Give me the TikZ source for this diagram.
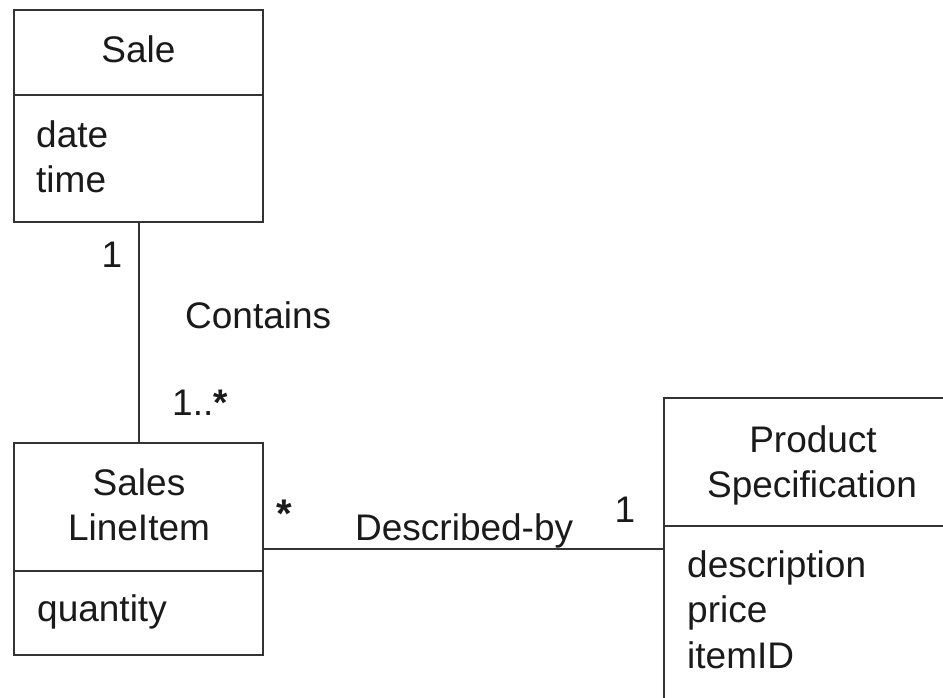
\documentclass[tikz,border=0pt]{standalone}
\usepackage{fontspec}
\setmainfont{Liberation Sans}
\definecolor{edge}{HTML}{333333}
\definecolor{ink}{HTML}{1A1A1A}
\tikzset{
  cls/.style={draw=edge, line width=2pt, rectangle, minimum width=249pt, inner sep=0pt},
  link/.style={draw=edge, line width=2pt},
  sep/.style={draw=edge, line width=2pt},
  lbl/.style={inner sep=0pt, text=ink, font=\fontsize{37}{45}\selectfont},
}
\begin{document}
\begin{tikzpicture}[x=1pt,y=-1pt]
\useasboundingbox (0,0) rectangle (943,697);
\clip (0,0) rectangle (943,697);
% boxes
\node[cls, minimum height=212pt] (sale) at (138.5,116) {};
\node[cls, minimum height=212pt] (item) at (138.5,549) {};
\node[cls, minimum width=320pt, minimum height=340pt] (prod) at (824,568) {};
% dividers
\coordinate (saleDivL) at (14,95);
\coordinate (itemDivL) at (14,571);
\coordinate (prodDivL) at (664,526);
\draw[sep] (saleDivL) -- (saleDivL -| sale.east);
\draw[sep] (itemDivL) -- (itemDivL -| item.east);
\draw[sep] (prodDivL) -- (prodDivL -| prod.east);
% connectors
\draw[link] (sale.south) -- (item.north);
\draw[link] (item.east) -- (item.east -| prod.west);
% texts
\node[lbl, anchor=base] (tSale) at (138.5,62) {Sale};
\node[lbl, anchor=base west] (tDate) at (36,147) {date};
\node[lbl, anchor=base west] (tTime) at (36,192) {time};
\node[lbl, anchor=base] (tSales) at (139,495) {Sales};
\node[lbl, anchor=base] (tLineItem) at (139,540) {LineItem};
\node[lbl, anchor=base west] (tQty) at (37,621) {quantity};
\node[lbl, anchor=base] (tProduct) at (813,452) {Product};
\node[lbl, anchor=base] (tSpec) at (812,497) {Specification};
\node[lbl, anchor=base west] (tDesc) at (687,577) {description};
\node[lbl, anchor=base west] (tPrice) at (687,622) {price};
\node[lbl, anchor=base west] (tItemID) at (687,668) {itemID};
% association labels
\node[lbl, anchor=base] (m1) at (112,267) {1};
\node[lbl, anchor=base west] (tContains) at (185,328) {Contains};
\node[lbl, anchor=base west] (m2) at (172,415) {1..\textbf{*}};
\node[lbl, anchor=base, font=\fontsize{40}{45}\selectfont\bfseries] (m3) at (284,527) {*};
\node[lbl, anchor=base west] (tDesc2) at (355,540) {Described-by};
\node[lbl, anchor=base] (m4) at (625,522) {1};
\end{tikzpicture}
\end{document}
